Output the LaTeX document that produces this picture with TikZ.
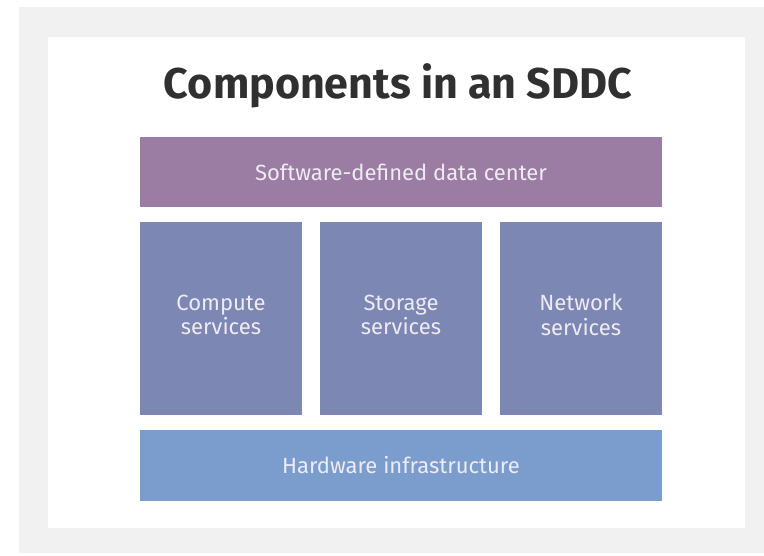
\documentclass[tikz,border=0pt]{standalone}
\usepackage{fontspec}
\setmainfont{Fira Sans}
\definecolor{sddc}{HTML}{9B7CA3}
\definecolor{svc}{HTML}{7D87B4}
\definecolor{hw}{HTML}{7A9DCD}
\definecolor{bg}{HTML}{F1F1F1}
\definecolor{ink}{HTML}{303030}
\definecolor{lbl}{HTML}{EEEBF3}
\begin{document}
\begin{tikzpicture}[x=1pt,y=-1pt,
	blk/.style={fill=#1, text=lbl, inner sep=0pt, align=center, font=\fontsize{22}{22}\selectfont}]
	\useasboundingbox (0,0) rectangle (764,555);
	\fill[bg] (19,7) rectangle (764,553);
	\fill[white] (48,37) rectangle (745,528);

	\node[text=ink, font=\fontsize{43}{50}\selectfont\bfseries] (title) at (398,86) {Components in an SDDC};

	\node[blk=sddc, minimum width=522pt, minimum height=70pt] (sddc) at (401,172) {Software-defined data center};
	\node[blk=svc, minimum width=162pt, minimum height=193pt] (compute) at (221,318) {Compute\strut\\services\strut};
	\node[blk=svc, minimum width=162pt, minimum height=193pt] (storage) at (401,318) {Storage\strut\\services\strut};
	\node[blk=svc, minimum width=162pt, minimum height=193pt] (network) at (581,318) {Network\strut\\services\strut};
	\node[blk=hw, minimum width=522pt, minimum height=71pt] (hw) at (401,465) {Hardware infrastructure};
\end{tikzpicture}
\end{document}
